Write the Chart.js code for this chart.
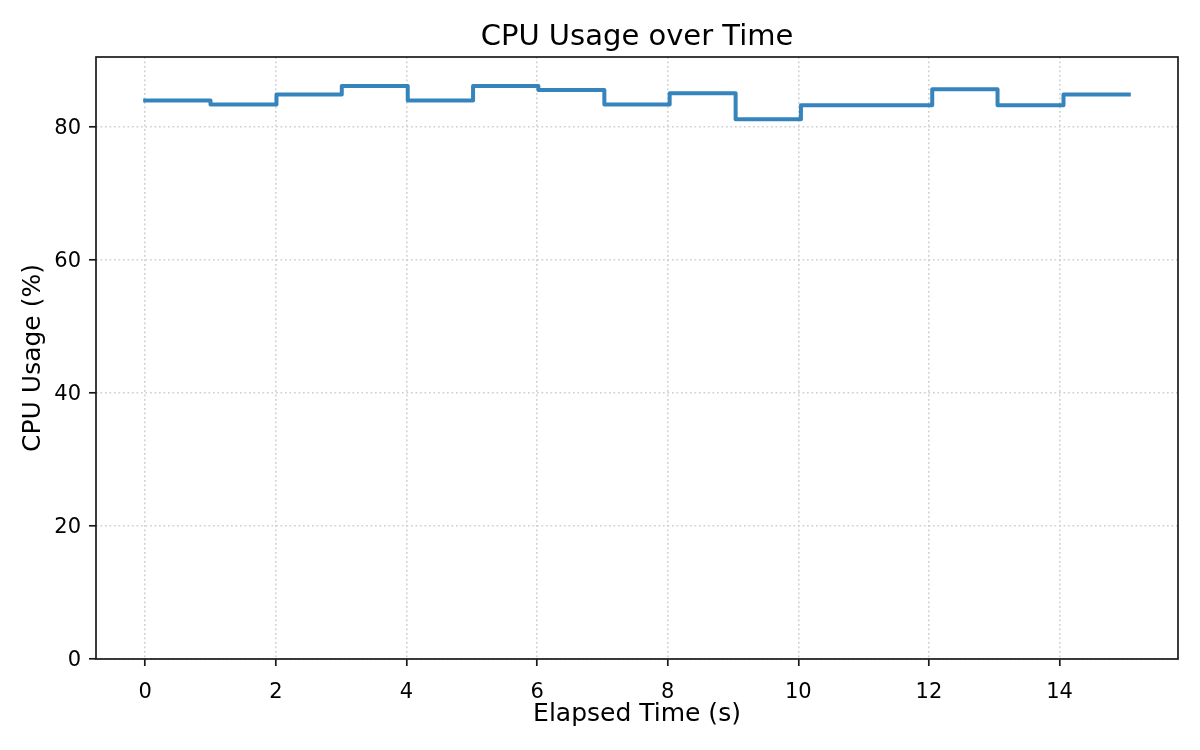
<!DOCTYPE html>
<html>
<head>
<meta charset="utf-8">
<script src="https://cdn.jsdelivr.net/npm/chart.js@4.4.1/dist/chart.umd.min.js"></script>
<style>
  html, body { margin: 0; padding: 0; background: #fff; }
  canvas { display: block; }
</style>
</head>
<body>
<canvas id="chart" width="1200" height="750"></canvas>
<script>
// --- data ---
const elapsedSec = [0, 1.00, 2.01, 3.01, 4.02, 5.02, 6.02, 7.03, 8.03, 9.04, 10.04, 11.04, 12.05, 13.05, 14.06, 15.06];
const cpuPct     = [83.9, 83.3, 84.8, 86.1, 83.9, 86.1, 85.5, 83.3, 85.0, 81.1, 83.2, 83.2, 85.6, 83.2, 84.8, 84.8];
const xTicks = [0, 2, 4, 6, 8, 10, 12, 14];
const yTicks = [0, 20, 40, 60, 80];
const chartTitle = "CPU Usage over Time";

const FONT = "'DejaVu Sans', sans-serif";
const GRID = "#cfcfcf";
const INK = "#1a1a1a";

// frame round the plot area (drawn above the line like matplotlib spines),
// plus the title centred over the plot area rather than the canvas
const framePlugin = {
  id: "frame",
  afterDraw(chart) {
    const { ctx, chartArea: a } = chart;
    ctx.save();
    ctx.setLineDash([]);
    ctx.strokeStyle = INK;
    ctx.lineWidth = 1.7;
    ctx.strokeRect(a.left, a.top, a.right - a.left, a.bottom - a.top);

    ctx.fillStyle = "#000";
    ctx.font = "29px " + FONT;
    ctx.textAlign = "center";
    ctx.textBaseline = "alphabetic";
    ctx.fillText(chartTitle, (a.left + a.right) / 2, a.top - 12.5);
    ctx.restore();
  },
};

new Chart(document.getElementById("chart"), {
  type: "line",
  data: {
    datasets: [{
      data: elapsedSec.map((t, i) => ({ x: t, y: cpuPct[i] })),
      stepped: "before",
      borderColor: "rgba(31,119,180,0.9)",
      borderWidth: 4,
      borderCapStyle: "square",
      borderJoinStyle: "round",
      pointRadius: 0,
      fill: false,
    }],
  },
  options: {
    responsive: false,
    devicePixelRatio: 1,
    animation: false,
    layout: { padding: { left: 0, right: 22, top: 57, bottom: 0 } },
    plugins: {
      legend: { display: false },
      tooltip: { enabled: false },
      title: { display: false },
    },
    scales: {
      x: {
        type: "linear",
        min: -0.753,
        max: 15.813,
        afterFit: (s) => { s.height = 91; },
        afterBuildTicks: (s) => { s.ticks = xTicks.map((v) => ({ value: v })); },
        grid: {
          color: GRID,
          lineWidth: 1.6,
          tickLength: 7,
          tickColor: INK,
          tickWidth: 1.7,
        },
        border: { display: false, dash: [1.7, 2.8] },
        ticks: {
          color: "#000",
          padding: 14,
          maxRotation: 0,
          font: { family: FONT, size: 21 },
        },
        title: {
          display: true,
          text: "Elapsed Time (s)",
          color: "#000",
          font: { family: FONT, size: 25 },
          padding: { top: 0, bottom: 21 },
        },
      },
      y: {
        type: "linear",
        min: 0,
        max: 90.45,
        afterFit: (s) => { s.width = 96; },
        afterBuildTicks: (s) => { s.ticks = yTicks.map((v) => ({ value: v })); },
        grid: {
          color: GRID,
          lineWidth: 1.6,
          tickLength: 7,
          tickColor: INK,
          tickWidth: 1.7,
        },
        border: { display: false, dash: [1.7, 2.8] },
        ticks: {
          color: "#000",
          padding: 8,
          labelOffset: 1.5,
          font: { family: FONT, size: 21 },
        },
        title: {
          display: true,
          text: "CPU Usage (%)",
          color: "#000",
          font: { family: FONT, size: 25 },
          padding: { top: 18, bottom: 0 },
        },
      },
    },
  },
  plugins: [framePlugin],
});
</script>
</body>
</html>
